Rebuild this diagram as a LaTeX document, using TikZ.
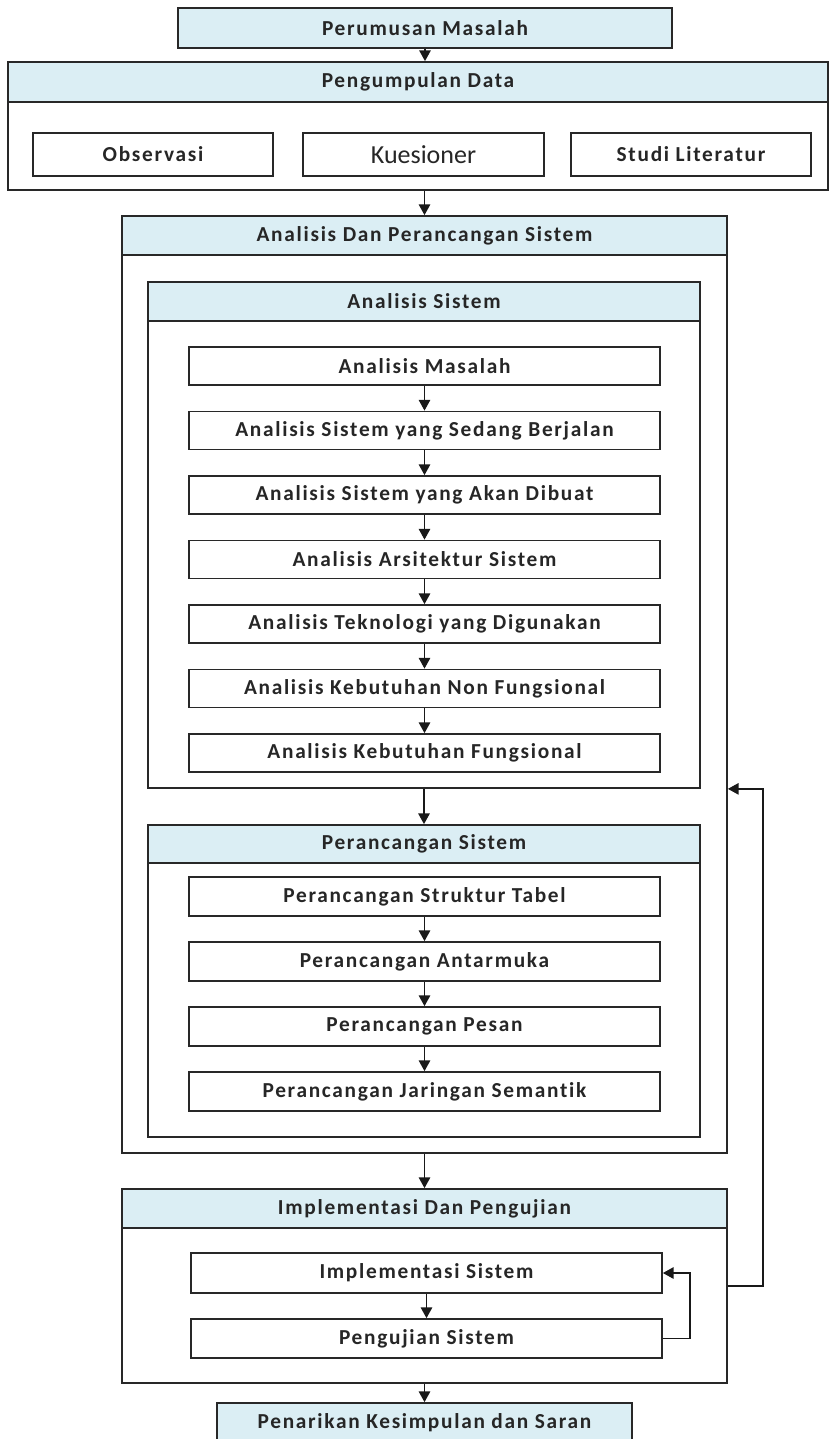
\documentclass[tikz,border=0pt]{standalone}
\usepackage{fontspec}
\newfontfamily\teks{Carlito}[LetterSpace=8,Ligatures=NoCommon]
\newfontfamily\teksb{Carlito}
\usetikzlibrary{arrows.meta,fit}
\definecolor{biru}{RGB}{219,238,244}
\definecolor{garis}{RGB}{40,40,40}
\begin{document}
\begin{tikzpicture}[x=0.75pt,y=-0.75pt,
  bingkai/.style={draw=garis,line width=1.3pt,inner sep=0pt,fill=white},
  judul/.style={bingkai,fill=biru},
  kotak/.style={bingkai},
  tulis/.style={font=\teks\bfseries\fontsize{16}{18}\selectfont,text=black!85},
  panah/.style={draw=black!90,line width=1.1pt,-{Triangle[length=8pt,width=8.5pt]}}]
\useasboundingbox (0,0) rectangle (830,1439);
\node[judul, fit={(178,8) (672,48)}, label={[tulis]center:Perumusan Masalah}] (pm) {};
\node[bingkai, fit={(8,62) (828,190)}] (pd) {};
\node[judul, fit={(8,62) (828,102)}, label={[tulis]center:Pengumpulan Data}] (pdj) {};
\node[kotak, fit={(33,133) (273,176)}, label={[tulis]center:Observasi}] (obs) {};
\node[kotak, fit={(303,133) (544,176)}, label={[font=\teksb\fontsize{19.5}{21}\selectfont,text=black!85]center:Kuesioner}] (kue) {};
\node[kotak, fit={(571,133) (811,176)}, label={[tulis]center:Studi Literatur}] (stu) {};
\node[bingkai, fit={(122,216) (727,1153)}] (adp) {};
\node[judul, fit={(122,216) (727,255)}, label={[tulis]center:Analisis Dan Perancangan Sistem}] (adpj) {};
\node[bingkai, fit={(148,282) (700,788)}] (as) {};
\node[judul, fit={(148,282) (700,321)}, label={[tulis]center:Analisis Sistem}] (asj) {};
\foreach \isi [count=\i] in {Analisis Masalah, Analisis Sistem yang Sedang Berjalan,
    Analisis Sistem yang Akan Dibuat, Analisis Arsitektur Sistem,
    Analisis Teknologi yang Digunakan, Analisis Kebutuhan Non Fungsional,
    Analisis Kebutuhan Fungsional} {
  \pgfmathsetmacro\atas{347+(\i-1)*64.5}
  \node[kotak, fit={(189,\atas) (660,\atas+38)}, label={[tulis]center:\isi}] (a\i) {};
}
\node[bingkai, fit={(148,825) (700,1137)}] (ps) {};
\node[judul, fit={(148,825) (700,863)}, label={[tulis]center:Perancangan Sistem}] (psj) {};
\foreach \isi [count=\i] in {Perancangan Struktur Tabel, Perancangan Antarmuka,
    Perancangan Pesan, Perancangan Jaringan Semantik} {
  \pgfmathsetmacro\atas{877+(\i-1)*65}
  \node[kotak, fit={(189,\atas) (660,\atas+39)}, label={[tulis]center:\isi}] (p\i) {};
}
\node[bingkai, fit={(122,1189) (727,1383)}] (ip) {};
\node[judul, fit={(122,1189) (727,1228)}, label={[tulis]center:Implementasi Dan Pengujian}] (ipj) {};
\node[kotak, fit={(191,1253) (662,1293)}, label={[tulis]center:Implementasi Sistem}] (is) {};
\node[kotak, fit={(191,1319) (662,1358)}, label={[tulis]center:Pengujian Sistem}] (pj) {};
\node[judul, fit={(217,1403) (632,1443)}, label={[tulis]center:Penarikan Kesimpulan dan Saran}] (pk) {};
\draw[panah] (pm.south) -- (pm.south |- pd.north);
\draw[panah] (adpj.north |- pd.south) -- (adpj.north);
\foreach \i [evaluate=\i as \j using int(\i+1)] in {1,...,6} {\draw[panah] (a\i) -- (a\j);}
\draw[panah] (as.south) -- (psj.north);
\foreach \i [evaluate=\i as \j using int(\i+1)] in {1,...,3} {\draw[panah] (p\i) -- (p\j);}
\draw[panah] (adp.south) -- (ipj.north);
\draw[panah] (is) -- (pj);
\draw[panah] (pk.north |- ip.south) -- (pk.north);
\draw[panah] (pj.east) -- ++(27,0) |- (is.east);
\draw[panah] (ip.east) -- ++(35,0) |- (adp.east |- as.south);
\end{tikzpicture}
\end{document}
